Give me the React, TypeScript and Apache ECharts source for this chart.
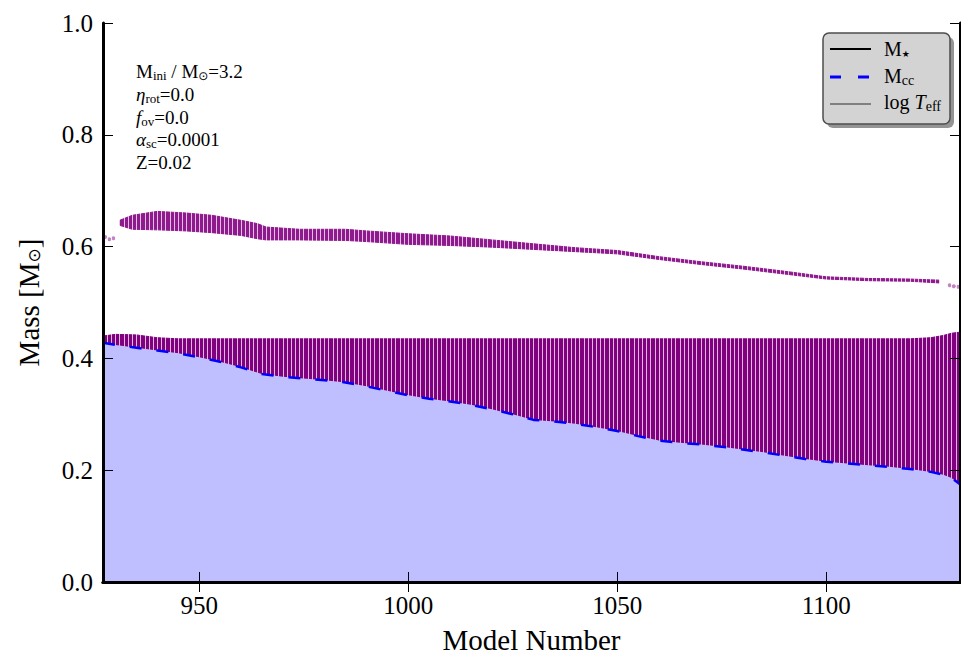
import { useEffect, useRef } from "react";
import * as echarts from "echarts";

const FONT = '"Liberation Serif", "DejaVu Serif", serif';

// x-axis tick values (model number)
const xTicks = [950, 1000, 1050, 1100];

// Sampled model numbers for the core / lower convective zone
const models = [
  927, 930, 935, 940, 945, 950, 955, 960, 965, 970, 975, 980, 985, 990, 995,
  1000, 1005, 1010, 1015, 1020, 1025, 1030, 1035, 1040, 1045, 1050, 1055, 1060,
  1065, 1070, 1075, 1080, 1085, 1090, 1095, 1100, 1105, 1110, 1115, 1120, 1125,
  1128, 1130, 1132,
];

// Convective core mass M_cc [Msun]
const coreMass = [
  0.428, 0.424, 0.419, 0.414, 0.409, 0.402, 0.394, 0.384, 0.372, 0.367, 0.364,
  0.361, 0.357, 0.35, 0.342, 0.334, 0.328, 0.323, 0.317, 0.309, 0.3, 0.29,
  0.287, 0.283, 0.277, 0.27, 0.261, 0.253, 0.249, 0.246, 0.242, 0.237, 0.232,
  0.226, 0.22, 0.215, 0.212, 0.209, 0.206, 0.202, 0.197, 0.192, 0.186, 0.175,
];

// Upper edge of the mixing zone sitting on the core [Msun]
const zoneTop = [
  0.44, 0.443, 0.442, 0.437, 0.435, 0.435, 0.435, 0.435, 0.435, 0.435, 0.435,
  0.435, 0.435, 0.435, 0.435, 0.435, 0.435, 0.435, 0.435, 0.435, 0.435, 0.435,
  0.435, 0.435, 0.435, 0.435, 0.435, 0.435, 0.435, 0.435, 0.435, 0.435, 0.435,
  0.435, 0.435, 0.435, 0.435, 0.435, 0.435, 0.435, 0.437, 0.441, 0.445, 0.447,
];

// Outer mixing shell
const bandModels = [
  931, 934, 940, 947, 953, 960, 964, 966, 974, 985, 990, 1000, 1010, 1020, 1030,
  1040, 1050, 1060, 1070, 1080, 1090, 1100, 1110, 1120, 1127,
];
const bandBottom = [
  0.638, 0.631, 0.63, 0.628, 0.625, 0.62, 0.614, 0.612, 0.612, 0.611, 0.609,
  0.604, 0.602, 0.599, 0.595, 0.591, 0.587, 0.577, 0.568, 0.56, 0.551, 0.542,
  0.539, 0.538, 0.535,
];
const bandTop = [
  0.647, 0.656, 0.663, 0.66, 0.656, 0.647, 0.641, 0.635, 0.631, 0.631, 0.628,
  0.623, 0.619, 0.612, 0.605, 0.598, 0.593, 0.582, 0.573, 0.565, 0.556, 0.546,
  0.543, 0.542, 0.54,
];

// Isolated mixing points near the ends of the run
const edgeDots: [number, number][] = [
  [927.5, 0.617],
  [928.5, 0.613],
  [929.5, 0.615],
  [1129.5, 0.531],
  [1130.5, 0.529],
  [1131.5, 0.528],
];

const small = { fontFamily: FONT, fontSize: 19, color: "#000" };
const annRich = {
  n: { ...small },
  i: { ...small, fontStyle: "italic" },
  s: { ...small, fontSize: 13, padding: [9, 0, 0, 0] },
  o: { ...small, fontFamily: '"DejaVu Sans", sans-serif', fontSize: 12, padding: [9, 0, 0, 0] },
};
const legRich = {
  n: { fontFamily: FONT, fontSize: 20, color: "#000" },
  i: { fontFamily: FONT, fontSize: 20, color: "#000", fontStyle: "italic" },
  s: { fontFamily: FONT, fontSize: 14, color: "#000", padding: [9, 0, 0, 0] },
  st: { fontFamily: '"DejaVu Sans", sans-serif', fontSize: 9, color: "#000", padding: [10, 0, 0, 0] },
};

const PURPLE = "#800080";
const SHELL = "#8e1a8e";

export default function App() {
  const ref = useRef<HTMLDivElement>(null);

  useEffect(() => {
    if (!ref.current) return;
    const chart = echarts.init(ref.current, undefined, { renderer: "svg" });

    const coreData = models.map((m, i) => [m, coreMass[i]]);
    const zoneData = models.map((m, i) => [m, zoneTop[i]]);
    const bandData = bandModels.map((m, i) => [m, bandBottom[i], bandTop[i]]);

    const axisLine = { show: true, lineStyle: { color: "#000", width: 3 } };
    const tickIn = (vals?: number[]) => ({
      show: true,
      inside: true,
      length: 10,
      lineStyle: { color: "#000", width: 1 },
      ...(vals ? { customValues: vals } : {}),
    });
    const xRange = { type: "value", min: 927, max: 1132 };

    const annotations = [
      "{n|M}{s|ini}{n| / M}{o|⊙}{n|=3.2}",
      "{i|η}{s|rot}{n|=0.0}",
      "{i|f}{s|ov}{n|=0.0}",
      "{i|α}{s|sc}{n|=0.0001}",
      "{n|Z=0.02}",
    ];
    const annY = [71, 94, 117, 139, 162];

    chart.setOption({
      animation: false,
      backgroundColor: "#fff",
      grid: { left: 103, right: 1, top: 23, bottom: 69, containLabel: false },
      xAxis: [
        {
          ...xRange,
          position: "bottom",
          z: 10,
          axisLine,
          axisTick: tickIn(xTicks),
          splitLine: { show: false },
          axisLabel: {
            customValues: xTicks,
            fontFamily: FONT,
            fontSize: 25,
            color: "#000",
            margin: 11,
            formatter: (v: number) => String(v),
          },
          name: "Model Number",
          nameLocation: "middle",
          nameGap: 43,
          nameTextStyle: { fontFamily: FONT, fontSize: 29, color: "#000" },
        },
        {
          ...xRange,
          position: "top",
          z: 10,
          axisLine,
          axisTick: tickIn(xTicks),
          splitLine: { show: false },
          axisLabel: { show: false },
        },
        {
          // one gap per computed model, separating the mixing columns
          ...xRange,
          interval: 1,
          position: "bottom",
          z: 3,
          axisLine: { show: false },
          axisTick: { show: false },
          axisLabel: { show: false },
          splitLine: { show: true, lineStyle: { color: "rgba(255,255,255,0.8)", width: 0.9 } },
        },
      ],
      yAxis: [
        {
          type: "value",
          min: 0,
          max: 1,
          interval: 0.2,
          position: "left",
          z: 10,
          axisLine,
          axisTick: tickIn(),
          splitLine: { show: false },
          axisLabel: {
            fontFamily: FONT,
            fontSize: 25,
            color: "#000",
            margin: 10,
            formatter: (v: number) => v.toFixed(1),
          },
          name: "Mass [M{s|⊙}]",
          nameLocation: "middle",
          nameRotate: 90,
          nameGap: 60,
          nameTextStyle: {
            fontFamily: FONT,
            fontSize: 29,
            color: "#000",
            rich: {
              s: {
                fontFamily: '"DejaVu Sans", sans-serif',
                fontSize: 17,
                color: "#000",
                padding: [11, 0, 0, 0],
              },
            },
          },
        },
        {
          type: "value",
          min: 0,
          max: 1,
          interval: 0.2,
          position: "right",
          z: 10,
          axisLine,
          axisTick: tickIn(),
          splitLine: { show: false },
          axisLabel: { show: false },
        },
      ],
      series: [
        {
          // outer mixing shell, drawn as one band between its two edges
          name: "shell",
          type: "custom",
          data: bandData,
          z: 2,
          renderItem: (params: any, api: any) => {
            if (params.dataIndex !== 0) return null;
            const upper = bandData.map((d) => api.coord([d[0], d[2]]));
            const lower = bandData.map((d) => api.coord([d[0], d[1]])).reverse();
            return {
              type: "polygon",
              shape: { points: [...upper, ...lower] },
              style: { fill: SHELL, stroke: SHELL, lineWidth: 1 },
            };
          },
        },
        {
          name: "zone",
          type: "line",
          data: zoneData,
          symbol: "none",
          lineStyle: { width: 1, color: PURPLE },
          areaStyle: { color: PURPLE, opacity: 1 },
          z: 2,
        },
        {
          name: "dots",
          type: "scatter",
          data: edgeDots,
          symbolSize: 4,
          itemStyle: { color: "rgba(128,0,128,0.6)" },
          z: 2,
        },
        {
          name: "Mcc",
          type: "line",
          data: coreData,
          symbol: "none",
          lineStyle: { color: "#0000ff", width: 2.5, type: [12, 15] },
          areaStyle: { color: "#bfbfff", opacity: 1 },
          z: 4,
        },
      ],
      graphic: [
        // run parameters
        ...annotations.map((t, i) => ({
          type: "text",
          z: 20,
          x: 136,
          y: annY[i],
          style: { text: t, rich: annRich, verticalAlign: "middle" },
        })),
        // legend
        {
          type: "rect",
          z: 20,
          shape: { x: 827, y: 37, width: 127, height: 91, r: 6 },
          style: { fill: "rgba(90,90,90,0.65)" },
        },
        {
          type: "rect",
          z: 21,
          shape: { x: 823, y: 33, width: 127, height: 91, r: 6 },
          style: { fill: "#d3d3d3", stroke: "#4d4d4d", lineWidth: 1.5 },
        },
        {
          type: "line",
          z: 22,
          shape: { x1: 830, y1: 49, x2: 871, y2: 49 },
          style: { stroke: "#000", lineWidth: 2 },
        },
        {
          type: "line",
          z: 22,
          shape: { x1: 830, y1: 77, x2: 871, y2: 77 },
          style: { stroke: "#0000ff", lineWidth: 3, lineDash: [11, 17] },
        },
        {
          type: "line",
          z: 22,
          shape: { x1: 830, y1: 104, x2: 871, y2: 104 },
          style: { stroke: "#808080", lineWidth: 2 },
        },
        {
          type: "text",
          z: 22,
          x: 884,
          y: 49,
          style: { text: "{n|M}{st|★}", rich: legRich, verticalAlign: "middle" },
        },
        {
          type: "text",
          z: 22,
          x: 884,
          y: 76,
          style: { text: "{n|M}{s|cc}", rich: legRich, verticalAlign: "middle" },
        },
        {
          type: "text",
          z: 22,
          x: 884,
          y: 102,
          style: { text: "{n|log }{i|T}{s|eff}", rich: legRich, verticalAlign: "middle" },
        },
      ],
    });

    return () => chart.dispose();
  }, []);

  return (
    <div
      ref={ref}
      style={{ position: "fixed", left: 0, top: 0, width: 961, height: 659 }}
    />
  );
}
